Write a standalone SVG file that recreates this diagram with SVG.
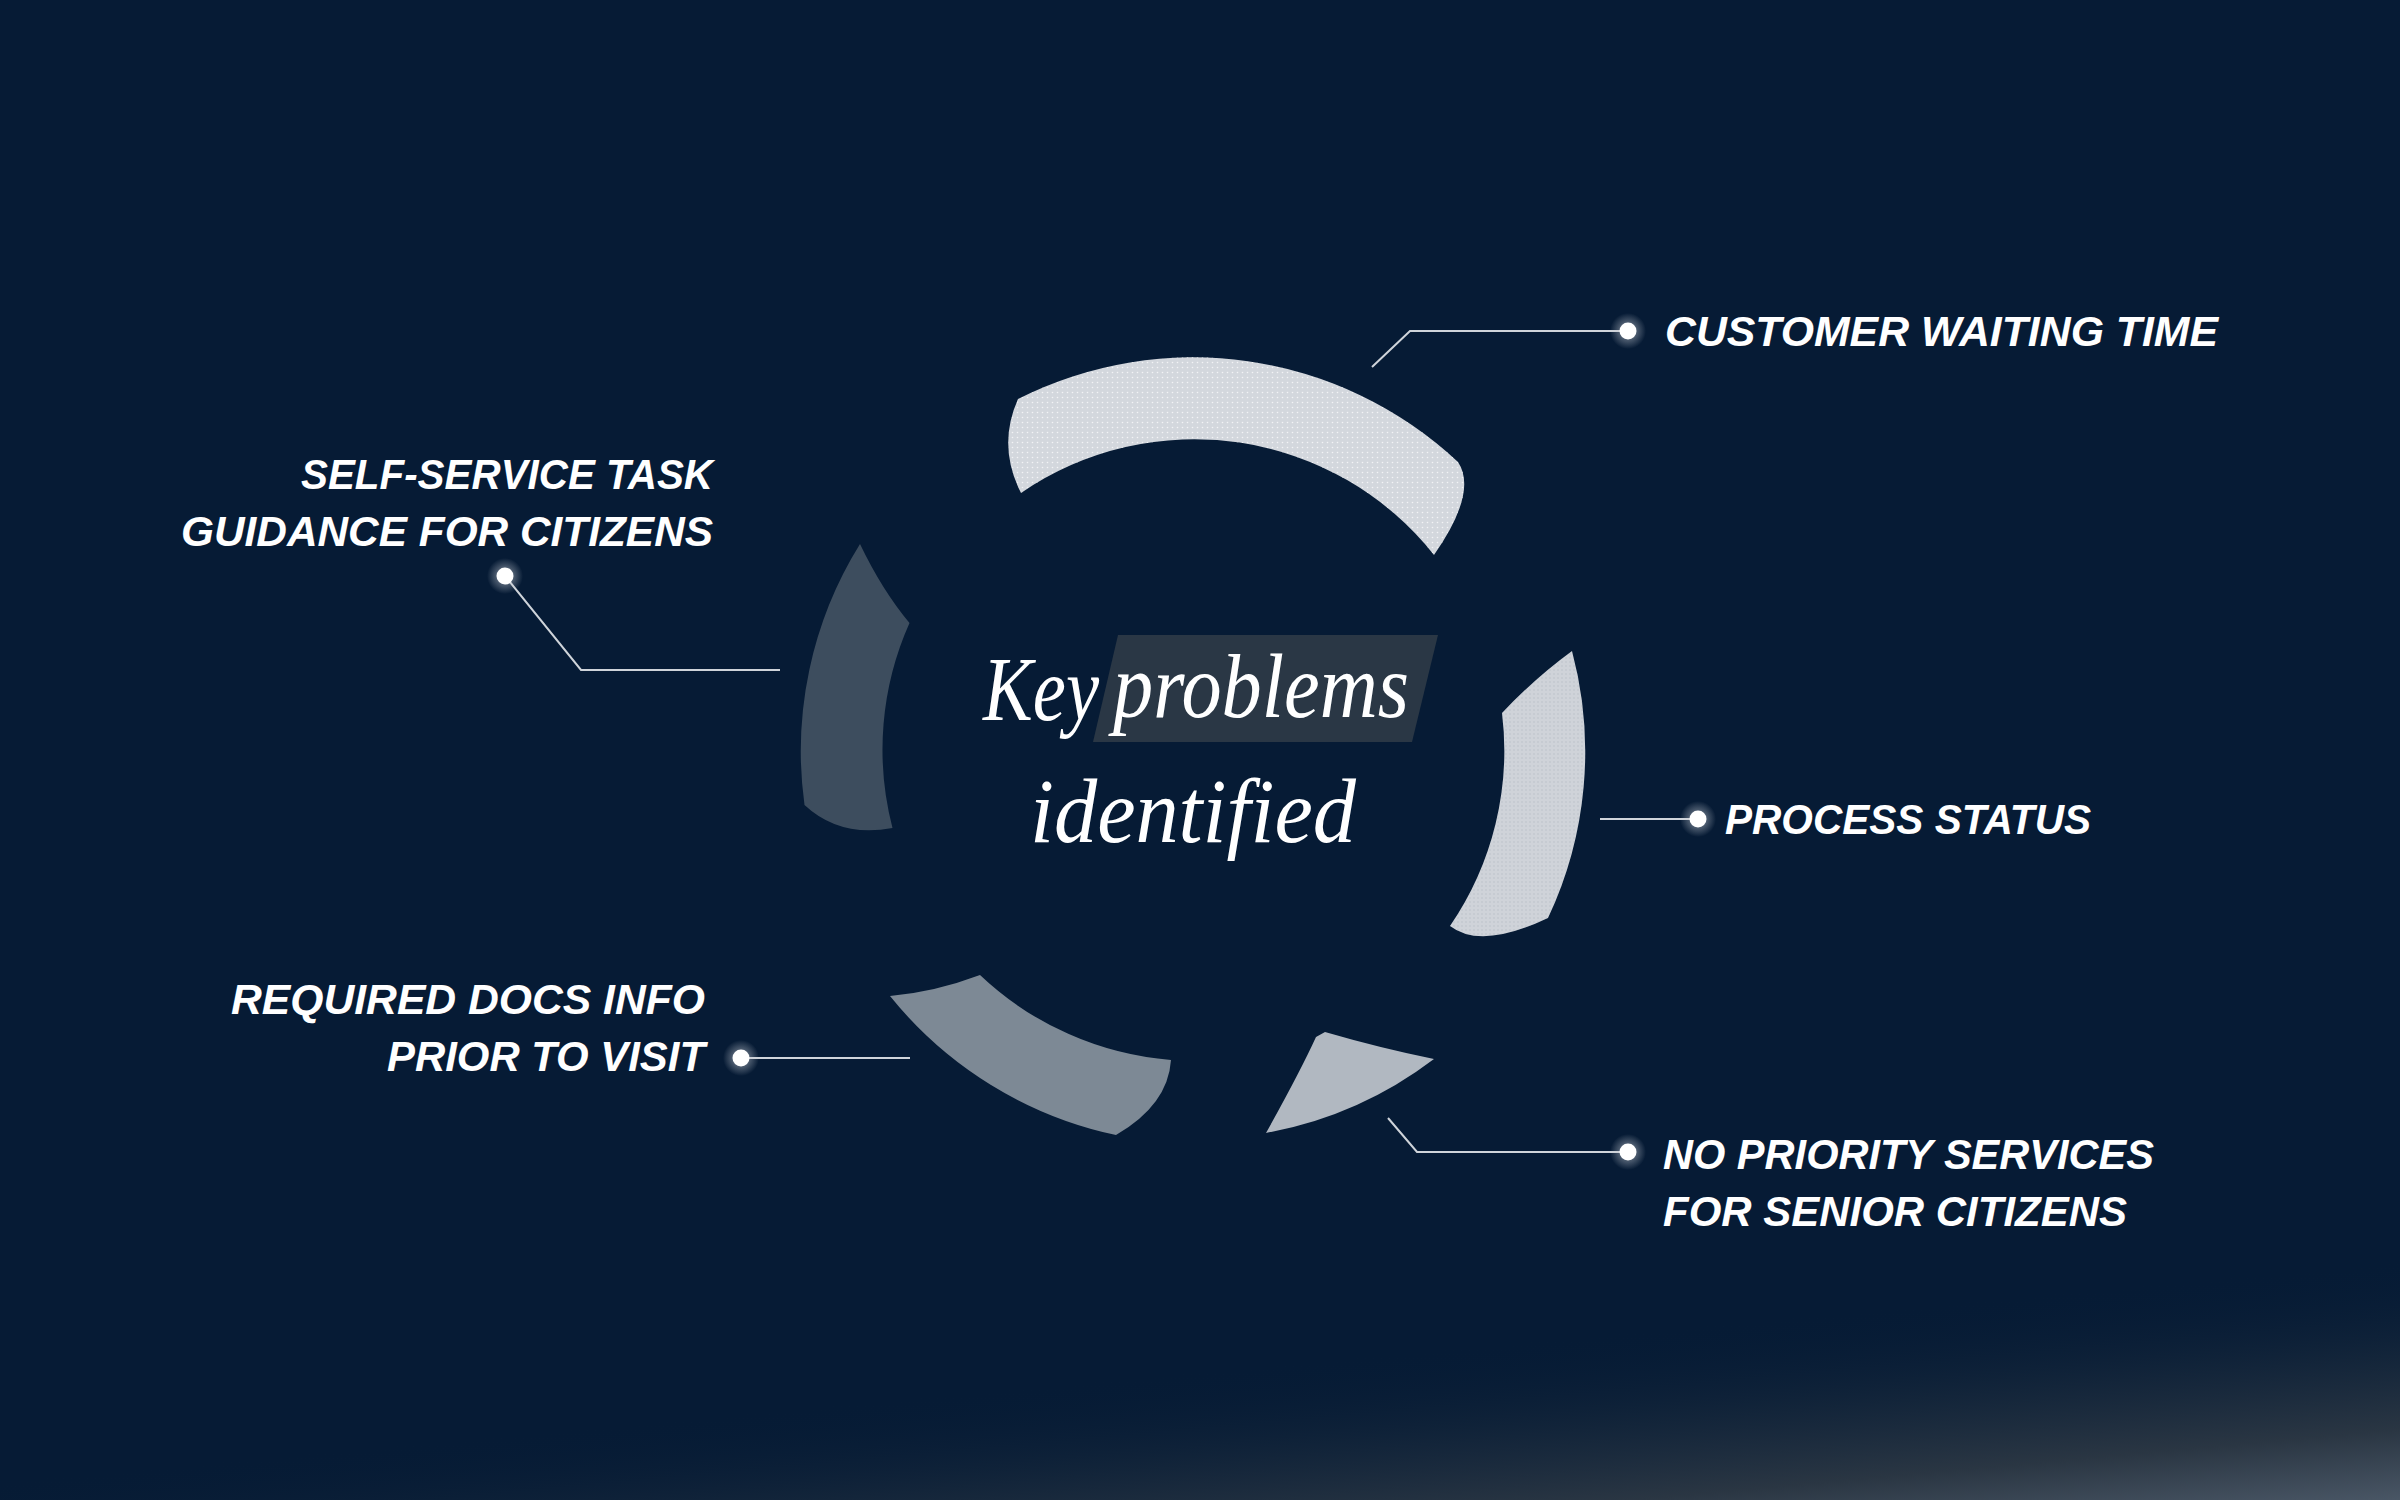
<svg xmlns="http://www.w3.org/2000/svg" width="2400" height="1500" viewBox="0 0 2400 1500">
  <defs>
    <linearGradient id="bgGlow" gradientUnits="userSpaceOnUse" x1="2380" y1="1262" x2="2402" y2="1502">
      <stop offset="0" stop-color="#061b35" stop-opacity="0"/>
      <stop offset="0.35" stop-color="#13253a" stop-opacity="0.8"/>
      <stop offset="0.7" stop-color="#2a3643"/>
      <stop offset="1" stop-color="#4a5766"/>
    </linearGradient>
    <radialGradient id="halo">
      <stop offset="0" stop-color="#ffffff" stop-opacity="0.55"/>
      <stop offset="0.5" stop-color="#c9ced6" stop-opacity="0.35"/>
      <stop offset="1" stop-color="#c9ced6" stop-opacity="0"/>
    </radialGradient>
    <pattern id="dots" width="5" height="5" patternUnits="userSpaceOnUse">
      <circle cx="2.5" cy="2.5" r="0.8" fill="#ffffff" fill-opacity="0.7"/>
    </pattern>
    <pattern id="dotsGray" width="4" height="4" patternUnits="userSpaceOnUse">
      <circle cx="2" cy="2" r="0.7" fill="#9aa3ad" fill-opacity="0.5"/>
    </pattern>
    <style>
      .label { font-family: "Liberation Sans", Arial, sans-serif; font-weight: 700; font-style: italic; font-size: 43px; fill: #ffffff; }
      .script { font-family: "Liberation Serif", "DejaVu Serif", serif; font-style: italic; font-size: 92px; fill: #ffffff; }
      .conn { fill: none; stroke: #cfd4da; stroke-width: 2; }
      .dot { fill: #ffffff; }
    </style>
  </defs>

  <rect width="2400" height="1500" fill="#061b35"/>
  <rect width="2400" height="1500" fill="url(#bgGlow)"/>

  <!-- Ring segments -->
  <g id="seg-top">
    <path d="M 1018,399 A 388 388 0 0 1 1458,462 Q 1478,492 1434,555 A 306 306 0 0 0 1021,493 Q 997,446 1018,399 Z" fill="#d3d7dd"/>
    <path d="M 1018,399 A 388 388 0 0 1 1458,462 Q 1478,492 1434,555 A 306 306 0 0 0 1021,493 Q 997,446 1018,399 Z" fill="url(#dots)"/>
  </g>
  <g id="seg-right">
    <path d="M 1572,651 A 390 390 0 0 1 1548,918 Q 1481,950 1450,926 A 310 310 0 0 0 1502,713 Q 1535,678 1572,651 Z" fill="#cfd3d9"/>
    <path d="M 1572,651 A 390 390 0 0 1 1548,918 Q 1481,950 1450,926 A 310 310 0 0 0 1502,713 Q 1535,678 1572,651 Z" fill="url(#dotsGray)"/>
  </g>
  <g id="seg-bottom-right">
    <path d="M 1325,1032 Q 1380,1048 1434,1059 A 394 394 0 0 1 1266,1133 Q 1300,1072 1316,1037 Z" fill="#b1b8c1"/>
  </g>
  <g id="seg-bottom-left">
    <path d="M 890,996 Q 935,992 980,975 A 314 314 0 0 0 1171,1060 Q 1168,1105 1116,1135 A 396 396 0 0 1 890,996 Z" fill="#7d8995"/>
  </g>
  <g id="seg-left">
    <path d="M 860,544 Q 882,590 909.5,623 A 311 311 0 0 0 892.5,828 Q 840,838 804.5,805 A 392 392 0 0 1 860,544 Z" fill="#3d4d5e"/>
  </g>

  <!-- Center title -->
  <g id="title">
    <polygon points="1118,635 1438,635 1412,742 1093,742" fill="#2a3745"/>
    <text class="script" x="983" y="720" textLength="116" lengthAdjust="spacingAndGlyphs">Key</text>
    <text class="script" x="1113" y="717" textLength="296" lengthAdjust="spacingAndGlyphs">problems</text>
    <text class="script" x="1030" y="842" textLength="326" lengthAdjust="spacingAndGlyphs">identified</text>
  </g>

  <!-- Connectors -->
  <g id="connectors">
    <polyline class="conn" points="1372,367 1410,331 1628,331"/>
    <polyline class="conn" points="1600,819 1698,819"/>
    <polyline class="conn" points="1388,1118 1417,1152 1628,1152"/>
    <polyline class="conn" points="741,1058 910,1058"/>
    <polyline class="conn" points="505,576 581,670 780,670"/>
  </g>

  <!-- Labels -->
  <g id="label-waiting">
    <circle cx="1628" cy="331" r="18" fill="url(#halo)"/>
    <circle class="dot" cx="1628" cy="331" r="8.5"/>
    <text class="label" x="1665" y="346" textLength="553" lengthAdjust="spacingAndGlyphs">CUSTOMER WAITING TIME</text>
  </g>
  <g id="label-status">
    <circle cx="1698" cy="819" r="18" fill="url(#halo)"/>
    <circle class="dot" cx="1698" cy="819" r="8.5"/>
    <text class="label" x="1725" y="834" textLength="366" lengthAdjust="spacingAndGlyphs">PROCESS STATUS</text>
  </g>
  <g id="label-priority">
    <circle cx="1628" cy="1152" r="18" fill="url(#halo)"/>
    <circle class="dot" cx="1628" cy="1152" r="8.5"/>
    <text class="label" x="1663" y="1169" textLength="491" lengthAdjust="spacingAndGlyphs">NO PRIORITY SERVICES</text>
    <text class="label" x="1663" y="1226" textLength="464" lengthAdjust="spacingAndGlyphs">FOR SENIOR CITIZENS</text>
  </g>
  <g id="label-docs">
    <circle cx="741" cy="1058" r="18" fill="url(#halo)"/>
    <circle class="dot" cx="741" cy="1058" r="8.5"/>
    <text class="label" x="231" y="1014" textLength="474" lengthAdjust="spacingAndGlyphs">REQUIRED DOCS INFO</text>
    <text class="label" x="387" y="1071" textLength="318" lengthAdjust="spacingAndGlyphs">PRIOR TO VISIT</text>
  </g>
  <g id="label-selfservice">
    <circle cx="505" cy="576" r="18" fill="url(#halo)"/>
    <circle class="dot" cx="505" cy="576" r="8.5"/>
    <text class="label" x="301" y="489" textLength="412" lengthAdjust="spacingAndGlyphs">SELF-SERVICE TASK</text>
    <text class="label" x="181" y="546" textLength="532" lengthAdjust="spacingAndGlyphs">GUIDANCE FOR CITIZENS</text>
  </g>
</svg>
